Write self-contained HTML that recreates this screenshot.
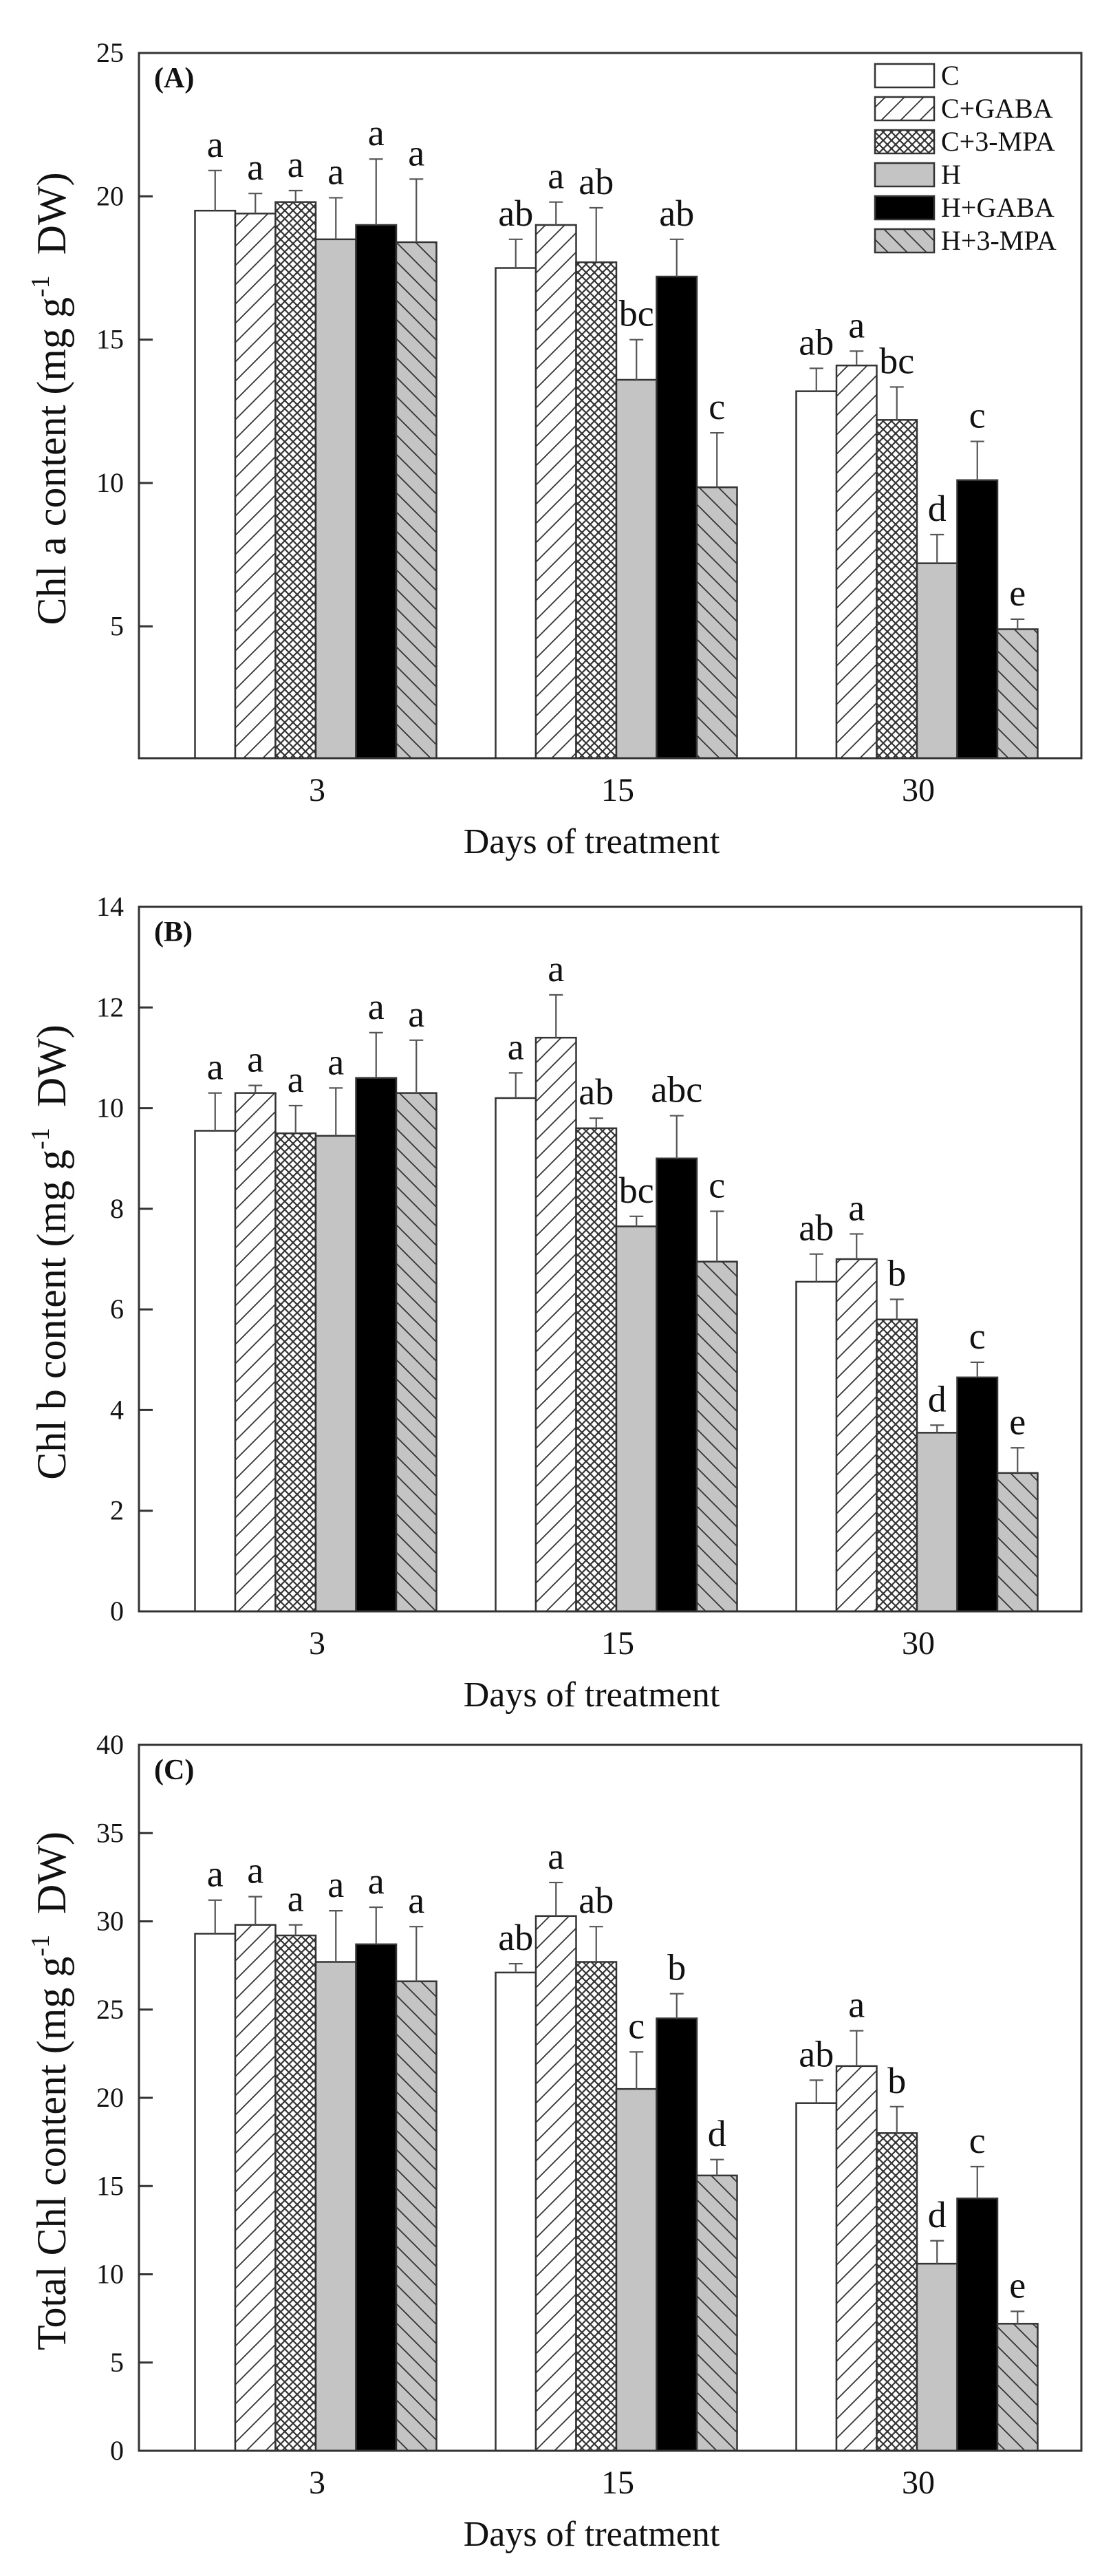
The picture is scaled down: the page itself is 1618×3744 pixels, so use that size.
<!DOCTYPE html>
<html><head><meta charset="utf-8"><style>
html,body{margin:0;padding:0;background:#fff;}
svg{display:block;}
text{font-family:"Liberation Serif",serif;fill:#111;}
</style></head><body>
<svg id="chart" width="1618" height="3744" viewBox="0 0 1618 3744" xmlns="http://www.w3.org/2000/svg">
<defs>
<pattern id="pFwd" patternUnits="userSpaceOnUse" width="28" height="28">
<rect width="28" height="28" fill="#fff"/>
<path d="M-7,7 L7,-7 M0,28 L28,0 M21,35 L35,21" stroke="#333" stroke-width="1.8"/>
</pattern>
<pattern id="pCross" patternUnits="userSpaceOnUse" width="12" height="12">
<rect width="12" height="12" fill="#fff"/>
<path d="M0,0 L12,12 M12,0 L0,12" stroke="#333" stroke-width="2.2"/>
</pattern>
<pattern id="pBack" patternUnits="userSpaceOnUse" width="28" height="28">
<rect width="28" height="28" fill="#c4c4c4"/>
<path d="M-7,21 L7,35 M0,0 L28,28 M21,-7 L35,7" stroke="#333" stroke-width="1.8"/>
</pattern>
</defs>
</svg>
<script>
const categories = ["3", "15", "30"];
const seriesNames = ["C", "C+GABA", "C+3-MPA", "H", "H+GABA", "H+3-MPA"];

const chlA_values = [[19.5,19.4,19.8,18.5,19.0,18.4],[17.5,19.0,17.7,13.6,17.2,9.85],[13.2,14.1,12.2,7.2,10.1,4.9]];
const chlA_errTop = [[20.9,20.1,20.2,19.95,21.3,20.6],[18.5,19.8,19.6,15.0,18.5,11.75],[14.0,14.6,13.35,8.2,11.45,5.25]];
const chlA_letters = [["a","a","a","a","a","a"],["ab","a","ab","bc","ab","c"],["ab","a","bc","d","c","e"]];
const chlA_ticks = [5,10,15,20,25];

const chlB_values = [[9.55,10.3,9.5,9.45,10.6,10.3],[10.2,11.4,9.6,7.65,9.0,6.95],[6.55,7.0,5.8,3.55,4.65,2.75]];
const chlB_errTop = [[10.3,10.45,10.05,10.4,11.5,11.35],[10.7,12.25,9.8,7.85,9.85,7.95],[7.1,7.5,6.2,3.7,4.95,3.25]];
const chlB_letters = [["a","a","a","a","a","a"],["a","a","ab","bc","abc","c"],["ab","a","b","d","c","e"]];
const chlB_ticks = [0,2,4,6,8,10,12,14];

const total_values = [[29.3,29.8,29.2,27.7,28.7,26.6],[27.1,30.3,27.7,20.5,24.5,15.6],[19.7,21.8,18.0,10.6,14.3,7.2]];
const total_errTop = [[31.2,31.4,29.8,30.6,30.8,29.7],[27.6,32.2,29.7,22.6,25.9,16.5],[21.0,23.8,19.5,11.9,16.1,7.9]];
const total_letters = [["a","a","a","a","a","a"],["ab","a","ab","c","b","d"],["ab","a","b","d","c","e"]];
const total_ticks = [0,5,10,15,20,25,30,35,40];

const fills = ["#fff","url(#pFwd)","url(#pCross)","#c4c4c4","#000","url(#pBack)"];
const NS = "http://www.w3.org/2000/svg";
const svg = document.getElementById("chart");

function mk(tag, attrs, parent){
  const e = document.createElementNS(NS, tag);
  for (const k in attrs) e.setAttribute(k, attrs[k]);
  (parent||svg).appendChild(e);
  return e;
}

function panel(cfg){
  const g = mk("g", {});
  
  
  const L = 202, R = 1572, T = cfg.top, B = cfg.bottom;
  const y = v => B - (v - cfg.min) / (cfg.max - cfg.min) * (B - T);
  const groupW = 437, bw = 58.5;
  const x0 = 459;
  const xc = i => x0 + i * groupW;

  cfg.values.forEach((grp, gi) => {
    grp.forEach((v, si) => {
      const bx = xc(gi) - 3 * bw + si * bw;
      const r = mk("rect", {x: bx, y: y(v), width: bw, height: B - y(v), fill: fills[si], stroke: "#333", "stroke-width": 2.5}, g);
      
      
      const cx = bx + bw / 2, et = y(cfg.err[gi][si]);
      const eb = mk("path", {d: `M${cx},${y(v)} L${cx},${et} M${cx-10},${et} L${cx+10},${et}`, stroke: "#555", "stroke-width": 2.2, fill: "none"}, g);
      
      
      const t = mk("text", {x: cx, y: et - 20, "text-anchor": "middle", "font-size": 54}, g);
      t.textContent = cfg.letters[gi][si];
      
      
    });
  });

  const fr = mk("rect", {x: L, y: T, width: R - L, height: B - T, fill: "none", stroke: "#333", "stroke-width": 3}, g);
  
  

  cfg.ticks.forEach(tv => {
    const ty = y(tv);
    const tk = mk("line", {x1: L, x2: L + 20, y1: ty, y2: ty, stroke: "#333", "stroke-width": 3}, g);
    
    
    const tl = mk("text", {x: L - 22, y: ty + 13, "text-anchor": "end", "font-size": 40}, g);
    tl.textContent = tv;
    
    
  });
  categories.forEach((c, i) => {
    const xl = mk("text", {x: xc(i) + 2, y: B + 62, "text-anchor": "middle", "font-size": 48}, g);
    xl.textContent = c;
    
    
  });
  const xt = mk("text", {x: 860, y: B + 138, "text-anchor": "middle", "font-size": 52}, g);
  xt.textContent = "Days of treatment";
  
  

  const yt = mk("text", {x: 0, y: 0, "text-anchor": "middle", "font-size": 60, transform: `translate(95,${(T + B) / 2 - 10}) rotate(-90)`}, g);
  
  
  const s1 = mk("tspan", {}, yt); s1.textContent = cfg.ylabel + " (mg g";
  const s2 = mk("tspan", {dy: -24, "font-size": 38}, yt); s2.textContent = "-1";
  const s3 = mk("tspan", {dy: 24}, yt); s3.textContent = "\u00a0\u00a0DW)";

  const pl = mk("text", {x: 224, y: T + 50, "font-size": 42, "font-weight": "bold"}, g);
  pl.textContent = cfg.label;
  
  
}

panel({name: "panel-a-chl-a", top: 77, bottom: 1102, min: 0.4, max: 25, values: chlA_values, err: chlA_errTop, letters: chlA_letters, ticks: chlA_ticks, ylabel: "Chl a content", label: "(A)"});
panel({name: "panel-b-chl-b", top: 1318, bottom: 2342, min: 0, max: 14, values: chlB_values, err: chlB_errTop, letters: chlB_letters, ticks: chlB_ticks, ylabel: "Chl b content", label: "(B)"});
panel({name: "panel-c-total-chl", top: 2536, bottom: 3562, min: 0, max: 40, values: total_values, err: total_errTop, letters: total_letters, ticks: total_ticks, ylabel: "Total Chl content", label: "(C)"});

const lg = mk("g", {});


seriesNames.forEach((n, i) => {
  const ly = 93 + i * 48;
  const b = mk("rect", {x: 1272, y: ly, width: 86, height: 34, fill: fills[i], stroke: "#333", "stroke-width": 2.5}, lg);
  
  
  const t = mk("text", {x: 1368, y: ly + 30, "font-size": 40}, lg);
  t.textContent = n;
  
  
});
</script>
</body></html>
